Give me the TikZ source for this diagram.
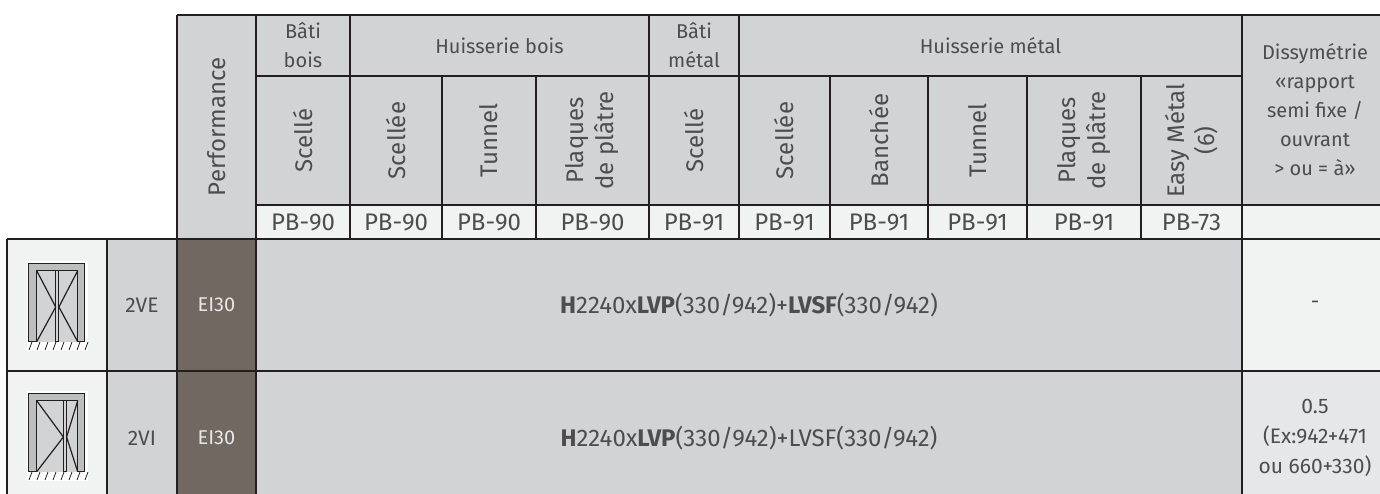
\documentclass[tikz,border=0pt]{standalone}
\usepackage{fontspec}
\setmainfont{Fira Sans}

\definecolor{rule}{HTML}{231F20}
\definecolor{hdrgray}{HTML}{D1D3D4}
\definecolor{pale}{HTML}{F1F2F2}
\definecolor{paler}{HTML}{E6E7E8}
\definecolor{perfbrown}{HTML}{716862}
\definecolor{ink}{HTML}{4D4D4F}
\definecolor{framegray}{HTML}{BCBEC0}

\begin{document}
\begin{tikzpicture}[x=0.5pt,y=-0.5pt,
  grid/.style={draw=rule,line width=1pt},
  hdr/.style={text=ink,align=center,inner sep=0pt,font=\fontsize{10}{14.5}\selectfont},
  vhdr/.style={text=ink,align=center,inner sep=0pt,rotate=90,font=\fontsize{12}{15}\selectfont},
  ref/.style={text=ink,inner sep=0pt,font=\fontsize{12}{14}\selectfont},
  body/.style={text=ink,align=center,inner sep=0pt,font=\fontsize{10.5}{15}\selectfont},
  perf/.style={text=paler,inner sep=0pt,font=\fontsize{10}{14}\selectfont},
  leaf/.style={draw=rule,line width=0.6pt}]

\useasboundingbox (0,0) rectangle (1380,493);
\clip (0,0) rectangle (1380,493);

% cell backgrounds
\fill[hdrgray] (177,15) rectangle (1390,205);
\fill[hdrgray] (177,205) rectangle (256,239);
\fill[pale] (256,205) rectangle (1390,239);
\fill[pale] (7,239) rectangle (107,505);
\fill[hdrgray] (107,239) rectangle (177,505);
\fill[perfbrown] (177,239) rectangle (256,505);
\fill[hdrgray] (256,239) rectangle (1242,505);
\fill[pale] (1242,239) rectangle (1390,371);
\fill[paler] (1242,371) rectangle (1390,505);

% grid
\draw[grid] (177,15) -- (1390,15);
\draw[grid] (256,76) -- (1242,76);
\draw[grid] (256,205) -- (1390,205);
\draw[grid] (7,239) -- (1390,239);
\draw[grid] (7,371) -- (1390,371);
\draw[grid] (7,505) -- (1390,505);
\draw[grid] (7,239) -- (7,505);
\draw[grid] (107,239) -- (107,505);
\draw[grid] (177,15) -- (177,505);
\draw[grid] (256,15) -- (256,505);
\draw[grid] (1242,15) -- (1242,505);
\foreach \cx in {350,649,739}
  \draw[grid] (\cx,15) -- (\cx,239);
\foreach \cx in {442,536,830,928,1027,1141}
  \draw[grid] (\cx,76) -- (\cx,239);

% door icons
\foreach \yy/\mx in {0/57.3,130/65} {
  \fill[white] (27,{\yy+261}) rectangle (88,{\yy+351});
  \filldraw[fill=framegray,leaf] (28.3,{\yy+263.3}) rectangle (84.7,{\yy+341.7});
  \fill[hdrgray] (36.7,{\yy+270.7}) rectangle (77.7,{\yy+341.7});
  \draw[leaf] (36.7,{\yy+341.7}) -- (36.7,{\yy+270.7}) -- (77.7,{\yy+270.7}) -- (77.7,{\yy+341.7});
  \filldraw[fill=hdrgray,leaf,line width=0.5pt] ({\mx-1.6},{\yy+270.7}) rectangle ({\mx+1.6},{\yy+341.7});
  \draw[leaf] (36.7,{\yy+270.7}) -- ({\mx-1.6},{\yy+307}) -- (36.7,{\yy+341.7});
  \draw[leaf] (77.7,{\yy+270.7}) -- ({\mx+1.6},{\yy+307}) -- (77.7,{\yy+341.7});
  \foreach \hx in {29,37,...,85}
    \draw[leaf,line width=0.4pt] (\hx,{\yy+350}) -- ++(3,-8);
}

% header
\node[vhdr] (perfhead) at (216.5,127) {Performance};
\node[hdr] (batibois) at (303,45.5) {Bâti\\bois};
\node[hdr] (huisbois) at (499.5,45.5) {Huisserie bois};
\node[hdr] (batimetal) at (694,45.5) {Bâti\\métal};
\node[hdr] (huismetal) at (990.5,45.5) {Huisserie métal};
\node[hdr] (dissym) at (1315,110) {Dissymétrie\\«rapport\\semi fixe /\\ouvrant\\> ou = à»};

\node[vhdr] (bbscelle) at (303,140.5) {Scellé};
\node[vhdr] (hbscellee) at (396,140.5) {Scellée};
\node[vhdr] (hbtunnel) at (489,140.5) {Tunnel};
\node[vhdr] (hbplaques) at (592.5,140.5) {Plaques\\de plâtre};
\node[vhdr] (bmscelle) at (694,140.5) {Scellé};
\node[vhdr] (hmscellee) at (784.5,140.5) {Scellée};
\node[vhdr] (hmbanchee) at (879,140.5) {Banchée};
\node[vhdr] (hmtunnel) at (977.5,140.5) {Tunnel};
\node[vhdr] (hmplaques) at (1084,140.5) {Plaques\\de plâtre};
\node[vhdr] (easymetal) at (1191.5,140.5) {Easy Métal\\(6)};

% PB references
\foreach \cx/\pb/\nm in {303/90/a,396/90/b,489/90/c,592.5/90/d,694/91/e,784.5/91/f,879/91/g,977.5/91/h,1084/91/i,1191.5/73/j}
  \node[ref] (pb\nm) at (\cx,222) {PB-\pb};

% body rows
\node[body] (typeve) at (142,305) {2VE};
\node[perf] (perfve) at (216.5,305) {EI30};
\node[ref] (dimve) at (749,305) {\textbf{H}2240x\textbf{LVP}(330/942)+\textbf{LVSF}(330/942)};
\node[body] (dissve) at (1315,305) {-};

\node[body] (typevi) at (142,438) {2VI};
\node[perf] (perfvi) at (216.5,438) {EI30};
\node[ref] (dimvi) at (749,438) {\textbf{H}2240x\textbf{LVP}(330/942)+LVSF(330/942)};
\node[body] (dissvi) at (1315,438) {0.5\\(Ex:942+471\\ou 660+330)};

\end{tikzpicture}
\end{document}
